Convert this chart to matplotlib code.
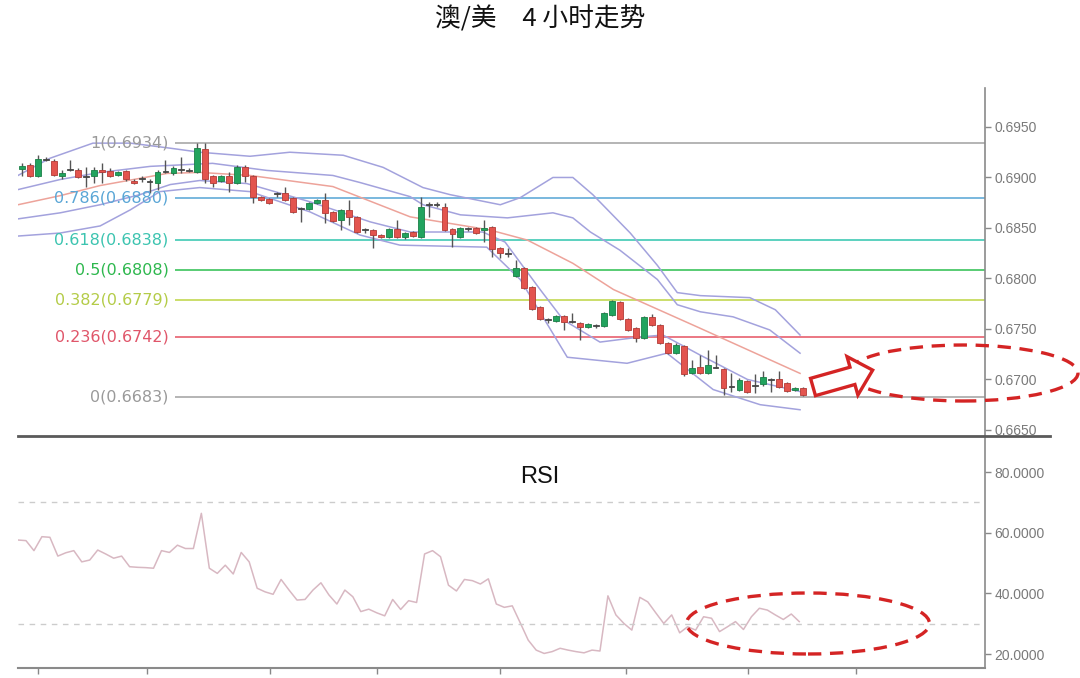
import matplotlib
matplotlib.use('Agg')
import matplotlib.pyplot as plt
from matplotlib.patches import Ellipse, Polygon
from matplotlib.lines import Line2D
import numpy as np

plt.rcParams['font.family'] = ['DejaVu Sans']

# 4h candles
opens = [0.6908, 0.6912, 0.6901, 0.6918, 0.6916, 0.6901, 0.6908, 0.6907, 0.6901, 0.6901,
         0.6907, 0.6906, 0.6902, 0.6906, 0.6897, 0.6899, 0.6896, 0.6895, 0.6906, 0.6904,
         0.6908, 0.6907, 0.6905, 0.6928, 0.6901, 0.6897, 0.6901, 0.6895, 0.6910, 0.6901,
         0.6881, 0.6879, 0.6884, 0.6885, 0.6880, 0.6869, 0.6869, 0.6875, 0.6878, 0.6866,
         0.6858, 0.6868, 0.6861, 0.6848, 0.6848, 0.6843, 0.6841, 0.6849, 0.6841, 0.6846,
         0.6841, 0.6873, 0.6873, 0.6871, 0.6849, 0.6841, 0.6849, 0.6850, 0.6848, 0.6851,
         0.6830, 0.6825, 0.6802, 0.6810, 0.6792, 0.6772, 0.6759, 0.6758, 0.6763, 0.6757,
         0.6756, 0.6752, 0.6753, 0.6753, 0.6764, 0.6777, 0.6760, 0.6751, 0.6741, 0.6762,
         0.6754, 0.6736, 0.6726, 0.6733, 0.6706, 0.6712, 0.6706, 0.6712, 0.6710, 0.6693,
         0.6690, 0.6698, 0.6694, 0.6695, 0.6700, 0.6700, 0.6696, 0.6690, 0.6692]
highs = [0.6914, 0.6914, 0.6922, 0.6920, 0.6918, 0.6907, 0.6917, 0.6909, 0.6910, 0.6910,
         0.6914, 0.6909, 0.6906, 0.6907, 0.6898, 0.6901, 0.6898, 0.6907, 0.6917, 0.6911,
         0.6920, 0.6909, 0.6934, 0.6934, 0.6902, 0.6902, 0.6905, 0.6912, 0.6912, 0.6902,
         0.6882, 0.6880, 0.6886, 0.6891, 0.6881, 0.6871, 0.6876, 0.6879, 0.6885, 0.6867,
         0.6869, 0.6878, 0.6862, 0.6850, 0.6849, 0.6844, 0.6850, 0.6858, 0.6846, 0.6847,
         0.6881, 0.6876, 0.6876, 0.6875, 0.6850, 0.6851, 0.6851, 0.6851, 0.6858, 0.6852,
         0.6831, 0.6830, 0.6818, 0.6811, 0.6793, 0.6773, 0.6761, 0.6764, 0.6764, 0.6766,
         0.6757, 0.6756, 0.6755, 0.6767, 0.6779, 0.6778, 0.6761, 0.6752, 0.6763, 0.6765,
         0.6755, 0.6737, 0.6736, 0.6734, 0.6719, 0.6724, 0.6729, 0.6724, 0.6711, 0.6706,
         0.6701, 0.6699, 0.6705, 0.6708, 0.6701, 0.6708, 0.6697, 0.6693, 0.6693]
lows = [0.6901, 0.6900, 0.6900, 0.6916, 0.6901, 0.6898, 0.6906, 0.6899, 0.6891, 0.6895,
        0.6895, 0.6900, 0.6901, 0.6897, 0.6894, 0.6896, 0.6885, 0.6888, 0.6904, 0.6902,
        0.6904, 0.6905, 0.6904, 0.6895, 0.6891, 0.6896, 0.6886, 0.6894, 0.6896, 0.6875,
        0.6877, 0.6874, 0.6881, 0.6877, 0.6865, 0.6856, 0.6868, 0.6874, 0.6855, 0.6856,
        0.6848, 0.6853, 0.6845, 0.6845, 0.6830, 0.6840, 0.6840, 0.6840, 0.6839, 0.6841,
        0.6840, 0.6861, 0.6871, 0.6847, 0.6831, 0.6840, 0.6847, 0.6844, 0.6836, 0.6821,
        0.6820, 0.6821, 0.6801, 0.6790, 0.6769, 0.6759, 0.6756, 0.6757, 0.6749, 0.6756,
        0.6739, 0.6751, 0.6751, 0.6752, 0.6763, 0.6759, 0.6748, 0.6737, 0.6740, 0.6753,
        0.6735, 0.6725, 0.6725, 0.6703, 0.6705, 0.6705, 0.6705, 0.6711, 0.6685, 0.6688,
        0.6689, 0.6687, 0.6687, 0.6694, 0.6688, 0.6692, 0.6688, 0.6689, 0.6684]
closes = [0.6911, 0.6901, 0.6918, 0.6917, 0.6902, 0.6904, 0.69075, 0.6900, 0.6900, 0.6907,
          0.6905, 0.6901, 0.6905, 0.6898, 0.6895, 0.68985, 0.68955, 0.6905, 0.69055, 0.6909,
          0.69075, 0.69065, 0.6929, 0.6898, 0.6895, 0.6901, 0.6895, 0.6910, 0.6901, 0.6881,
          0.6878, 0.6875, 0.68835, 0.6878, 0.6866, 0.68685, 0.6875, 0.6878, 0.6865, 0.6857,
          0.6868, 0.6861, 0.6846, 0.68475, 0.6843, 0.6841, 0.6849, 0.6841, 0.6845, 0.6842,
          0.6871, 0.68725, 0.68725, 0.6848, 0.6844, 0.6850, 0.68485, 0.6845, 0.6850, 0.6829,
          0.6825, 0.68245, 0.6810, 0.6791, 0.6770, 0.6760, 0.67585, 0.6763, 0.6757, 0.67565,
          0.6752, 0.6755, 0.67525, 0.6766, 0.6778, 0.6760, 0.6749, 0.6741, 0.6762, 0.6754,
          0.6736, 0.6726, 0.6734, 0.6705, 0.6711, 0.6706, 0.6714, 0.67115, 0.6692, 0.66925,
          0.6699, 0.6688, 0.66935, 0.6702, 0.66995, 0.6693, 0.6689, 0.6692, 0.6685]

# bollinger / moving average lines, sampled points (candle index, price)
up2_x = [-0.5, 3.5, 8.9, 13.6, 18.6, 22.3, 28.6, 33.6, 40.3, 45.3, 50.3, 53.7, 60.0, 62.5,
         66.6, 69.1, 71.6, 76.3, 79.7, 82.2, 85.1, 91.3, 94.5, 97.6]
up2_y = [0.6902, 0.6919, 0.6934, 0.6934, 0.6929, 0.6925, 0.6921, 0.6925, 0.6922, 0.6910,
         0.6890, 0.6883, 0.6873, 0.6880, 0.6900, 0.6900, 0.6883, 0.6845, 0.6813, 0.6786,
         0.6783, 0.6781, 0.6769, 0.6744]
up1_x = [-0.5, 4.8, 9.8, 16.1, 23.9, 30.7, 39.0, 42.4, 48.7, 50.3, 55.0, 60.9, 66.6, 69.1,
         71.3, 75.0, 79.7, 82.2, 85.1, 89.2, 93.8, 97.6]
up1_y = [0.6888, 0.6898, 0.6905, 0.6911, 0.6914, 0.6907, 0.6902, 0.6895, 0.6881, 0.6873,
         0.6863, 0.6860, 0.6865, 0.6860, 0.6846, 0.6828, 0.6799, 0.6774, 0.6767, 0.6762,
         0.6749, 0.6726]
ma_x = [-0.5, 4.8, 9.8, 18.2, 22.3, 28.6, 39.0, 48.7, 58.7, 63.4, 69.1, 74.2, 84.7, 97.6]
ma_y = [0.6873, 0.6882, 0.6892, 0.6904, 0.6905, 0.6902, 0.6891, 0.6861, 0.6848, 0.6838,
        0.6815, 0.6789, 0.6752, 0.6706]
lo1_x = [-0.5, 4.8, 9.8, 14.8, 18.6, 22.3, 28.2, 36.1, 43.7, 48.7, 57.8, 60.6, 65.0, 67.9,
         72.5, 77.5, 80.4, 85.1, 91.0, 97.6]
lo1_y = [0.6859, 0.6865, 0.6873, 0.6883, 0.6893, 0.6897, 0.6894, 0.6876, 0.6856, 0.6846,
         0.6846, 0.6836, 0.6789, 0.6759, 0.6737, 0.6742, 0.6744, 0.6724, 0.6700, 0.6688]
lo2_x = [-0.5, 4.8, 9.8, 13.6, 17.3, 22.3, 28.6, 36.1, 42.4, 47.4, 58.3, 62.5, 68.4, 75.9,
         80.9, 86.7, 92.6, 97.6]
lo2_y = [0.6842, 0.6845, 0.6852, 0.6868, 0.6886, 0.6890, 0.6886, 0.6866, 0.6843, 0.6833,
         0.6831, 0.6799, 0.6722, 0.6716, 0.6726, 0.6690, 0.6675, 0.6670]

# fibonacci retracement
fib_ratio = ['1', '0.786', '0.618', '0.5', '0.382', '0.236', '0']
fib_level = [0.6934, 0.6880, 0.6838, 0.6808, 0.6779, 0.6742, 0.6683]
fib_color = ['#a8a8a8', '#62acd8', '#3fc9b4', '#3cc45c', '#c2d852', '#e8606e', '#a8a8a8']
fib_text = ['#9a9a9a', '#5aa6d6', '#3cc4b0', '#2eb84e', '#b4cc48', '#e0566a', '#9a9a9a']

rsi = [57.6, 57.4, 54.1, 58.7, 58.5, 52.3, 53.4, 54.1, 50.4, 51.0, 54.3, 53.0, 51.6, 52.3,
       48.8, 48.6, 48.5, 48.3, 54.1, 53.5, 55.9, 54.8, 54.8, 66.4, 48.3, 46.6, 49.3, 46.4,
       53.5, 50.4, 41.7, 40.5, 39.7, 44.6, 41.1, 37.8, 38.0, 41.1, 43.5, 39.5, 36.5, 41.1,
       38.9, 34.0, 34.8, 33.6, 32.6, 38.0, 34.7, 37.6, 37.0, 53.0, 54.1, 52.1, 42.7, 40.8,
       44.6, 44.2, 43.1, 44.8, 36.5, 35.4, 35.9, 30.3, 24.6, 21.3, 20.2, 20.8, 21.9, 21.3,
       20.8, 20.4, 21.3, 21.0, 39.2, 32.9, 30.1, 27.9, 38.7, 37.2, 33.6, 30.1, 32.9, 27.0,
       29.0, 27.9, 32.3, 31.8, 27.4, 29.0, 30.7, 28.1, 32.3, 35.1, 34.5, 32.9, 31.4, 33.2, 30.7]
rsi_levels = [70, 30]
date_ticks = [2.0, 15.7, 31.1, 44.5, 60.0, 75.8, 91.1, 104.6]

W, H = 1080, 678
fig = plt.figure(figsize=(W / 100, H / 100), dpi=100)

def fx(px):
    return px / W

def fy(py):
    return 1 - py / H

ax = fig.add_axes([fx(18), fy(436), fx(985 - 18), (436 - 88) / H])
rax = fig.add_axes([fx(18), fy(668), fx(985 - 18), (668 - 436) / H])

xmin, xmax = -0.5, 120.8

# --- price panel
o = np.array(opens); c = np.array(closes)
n = len(o)
xi = np.arange(n)
body_lo = np.minimum(o, c)
body_h = np.maximum(np.abs(c - o), 0.00012)
face = np.where(np.abs(c - o) < 0.00015, '#555555', np.where(c > o, '#22a35e', '#e3544e'))
edge = np.where(np.abs(c - o) < 0.00015, '#444444', np.where(c > o, '#1a7f47', '#b23b36'))
ax.vlines(xi, lows, highs, color='#555555', lw=1, zorder=4)
ax.bar(xi, body_h, bottom=body_lo, width=0.74, color=face, edgecolor=edge, lw=0.6, zorder=5)

band = '#a3a2dd'
ax.plot(up2_x, up2_y, color=band, lw=1.1, zorder=3)
ax.plot(up1_x, up1_y, color=band, lw=1.1, zorder=3)
ax.plot(lo1_x, lo1_y, color=band, lw=1.1, zorder=3)
ax.plot(lo2_x, lo2_y, color=band, lw=1.1, zorder=3)
ax.plot(ma_x, ma_y, color='#eda39a', lw=1.1, zorder=3)

for r, lv, lc, tc in zip(fib_ratio, fib_level, fib_color, fib_text):
    ax.hlines(lv, 19.2, xmax, color=lc, lw=1.2, zorder=2)
    ax.text(18.4, lv, f'{r}({lv:.4f})', color=tc, fontsize=11.5, ha='right', va='center',
            zorder=6)

ax.set_xlim(xmin, xmax)
ax.set_ylim(0.6644, 0.69886)
ax.yaxis.tick_right()
ax.set_yticks(np.arange(0.665, 0.6951, 0.005))
ax.yaxis.set_major_formatter(matplotlib.ticker.FormatStrFormatter('%.4f'))
ax.tick_params(axis='y', colors='#888888', labelcolor='#7a7a7a', length=4, width=1, pad=3,
               labelsize=10)
for lab in ax.get_yticklabels():
    lab.set_family('Liberation Sans')
ax.set_xticks([])
for s in ['top', 'left', 'bottom']:
    ax.spines[s].set_visible(False)
ax.spines['right'].set_color('#8a8a8a')
ax.spines['right'].set_linewidth(1.2)
ax.patch.set_alpha(0)

# --- rsi panel
rax.plot(np.arange(len(rsi)) - 0.5, rsi, color='#d8b8c2', lw=1.1)
for lv in rsi_levels:
    rax.axhline(lv, color='#cccccc', lw=1, ls=(0, (4, 4)))
fig.text(0.5, fy(477), 'RSI', fontsize=17, ha='center', va='center',
         family='Liberation Sans', color='#111111')
rax.set_xlim(xmin, xmax)
rax.set_ylim(15.4, 91.9)
rax.yaxis.tick_right()
rax.set_yticks([20, 40, 60, 80])
rax.yaxis.set_major_formatter(matplotlib.ticker.FormatStrFormatter('%.4f'))
rax.tick_params(axis='y', colors='#888888', labelcolor='#7a7a7a', length=4, width=1, pad=3,
                labelsize=10)
for lab in rax.get_yticklabels():
    lab.set_family('Liberation Sans')
rax.set_xticks(date_ticks)
rax.set_xticklabels([])
rax.tick_params(axis='x', colors='#888888', length=4, width=1)
for s in ['top', 'left']:
    rax.spines[s].set_visible(False)
rax.spines['right'].set_color('#8a8a8a')
rax.spines['right'].set_linewidth(1.2)
rax.spines['bottom'].set_color('#8a8a8a')
rax.spines['bottom'].set_linewidth(1.5)
rax.patch.set_alpha(0)

# separator line between panels
fig.add_artist(Line2D([fx(18), fx(1050)], [fy(436), fy(436)], color='#5a5a5a', lw=2))

# title
fig.text(0.5, fy(19), '澳/美\u30004 小时走势', ha='center', va='center', fontsize=18.5,
         family=['Noto Sans CJK SC', 'DejaVu Sans'], color='#111111')

# annotations: dashed ellipses and hollow arrow
red = '#d42424'
fig.add_artist(Ellipse((fx(963), fy(373)), fx(230), 56 / H, transform=fig.transFigure,
                       fill=False, ec=red, lw=2.4, ls=(0, (4, 2.6)), zorder=8))
fig.add_artist(Ellipse((fx(808), fy(623.5)), fx(243), 61 / H, transform=fig.transFigure,
                       fill=False, ec=red, lw=2.4, ls=(0, (4, 2.6)), zorder=8))

th = np.radians(15.8)
u = np.array([np.cos(th), -np.sin(th)])
v = np.array([np.sin(th), np.cos(th)])
tail = np.array([813.0, 387.0])
L, L1, bw, hw = 62, 41, 9, 20
local = [(0, -bw), (L1, -bw), (L1, -hw), (L, 0), (L1, hw), (L1, bw), (0, bw)]
pts = [tail + a * u + b * v for a, b in local]
pts = [(fx(p[0]), fy(p[1])) for p in pts]
fig.add_artist(Polygon(pts, closed=True, transform=fig.transFigure, fc='white', ec=red,
                       lw=2.4, zorder=9))

fig.savefig('out.png', dpi=100)
